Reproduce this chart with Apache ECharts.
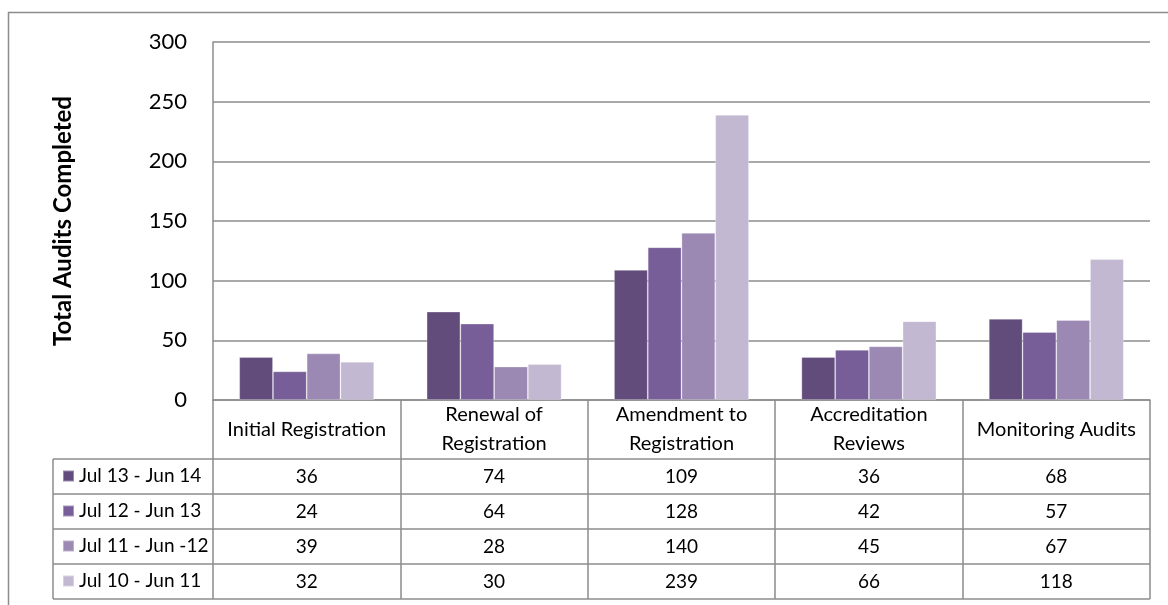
<!DOCTYPE html>
<html>
<head>
<meta charset="utf-8">
<script src="https://cdn.jsdelivr.net/npm/echarts@6/dist/echarts.min.js"></script>
<style>
  html, body { margin: 0; padding: 0; background: #fff; }
  #chart { width: 1168px; height: 605px; }
</style>
</head>
<body>
<div id="chart"></div>
<script>
// categories (header row of the data table)
const categories = ['Initial Registration', 'Renewal of\nRegistration', 'Amendment to\nRegistration', 'Accreditation\nReviews', 'Monitoring Audits']
const seriesNames = ['Jul 13 - Jun 14', 'Jul 12 - Jun 13', 'Jul 11 - Jun -12', 'Jul 10 - Jun 11']
const jul13 = [36, 74, 109, 36, 68]
const jul12 = [24, 64, 128, 42, 57]
const jul11 = [39, 28, 140, 45, 67]
const jul10 = [32, 30, 239, 66, 118]
const seriesValues = [jul13, jul12, jul11, jul10]
const colors = ['#624c7c', '#785e99', '#9b88b3', '#c3b8d2']

const FONT = 'Lato, "Open Sans", sans-serif'
const LINE = '#8c8c8c'

// layout of the plot and the table under it
const gridLeft = 213
const gridRight = 18
const gridTop = 42
const axisY = 400
const tableLeft = 53
const rowTop = 459
const rowH = 35

const chart = echarts.init(document.getElementById('chart'))

const option = {
  animation: false,
  color: colors,
  textStyle: {fontFamily: FONT},
  grid: {left: gridLeft, right: gridRight, top: gridTop, bottom: 605 - axisY, containLabel: false},
  legend: {
    orient: 'vertical',
    left: 62,
    top: rowTop + 6,
    padding: 0,
    itemGap: rowH - 22,
    itemWidth: 11,
    itemHeight: 11,
    icon: 'rect',
    textStyle: {fontFamily: FONT, fontSize: 19, color: '#000', lineHeight: 22},
    data: seriesNames
  },
  xAxis: {
    type: 'category',
    data: categories,
    axisLine: {show: true, lineStyle: {color: LINE, width: 1.5}},
    axisTick: {show: true, interval: 0, length: rowTop + rowH * 4 - axisY, lineStyle: {color: LINE, width: 1.5}},
    axisLabel: {
      interval: 0, hideOverlap: false,
      color: '#000', fontFamily: FONT, fontSize: 20, lineHeight: 29,
      margin: (rowTop - axisY) / 2, verticalAlign: 'middle', align: 'center'
    },
    splitLine: {show: false}
  },
  yAxis: {
    type: 'value',
    min: 0,
    max: 300,
    interval: 50,
    name: 'Total Audits Completed',
    nameLocation: 'middle',
    nameGap: 138,
    nameRotate: 90,
    nameTextStyle: {fontFamily: FONT, fontSize: 24, fontWeight: 'bold', color: '#000'},
    axisLine: {show: true, lineStyle: {color: LINE, width: 1.5}},
    axisTick: {show: false},
    axisLabel: {color: '#000', fontFamily: FONT, fontSize: 22, margin: 26},
    splitLine: {show: true, lineStyle: {color: LINE, width: 1.5}}
  },
  series: seriesValues.map((vals, i) => ({
    name: seriesNames[i],
    type: 'bar',
    data: vals,
    barGap: '0%',
    barCategoryGap: '28%',
    itemStyle: {color: colors[i], borderColor: 'rgba(255,255,255,0.35)', borderWidth: 0.8}
  }))
}

chart.setOption(option)

// build the data table from the same arrays
const tableRight = 1168 - gridRight
const graphics = [
  {type: 'rect', silent: true, shape: {x: 8.5, y: 12.5, width: 1300, height: 800},
    style: {fill: null, stroke: LINE, lineWidth: 1.5}},
  {type: 'line', silent: true, shape: {x1: tableLeft, y1: rowTop, x2: tableLeft, y2: rowTop + rowH * 4},
    style: {stroke: LINE, lineWidth: 1.5}}
]
for (let r = 0; r <= 4; r++) {
  const y = rowTop + rowH * r
  graphics.push({type: 'line', silent: true, shape: {x1: tableLeft, y1: y, x2: tableRight, y2: y},
    style: {stroke: LINE, lineWidth: 1.5}})
}
seriesValues.forEach((vals, r) => {
  vals.forEach((v, c) => {
    const x = chart.convertToPixel({xAxisIndex: 0}, c)
    graphics.push({
      type: 'text', silent: true,
      x: x, y: rowTop + rowH * r + rowH / 2,
      style: {text: String(v), fontFamily: FONT, fontSize: 19, fill: '#000', align: 'center', verticalAlign: 'middle'}
    })
  })
})
chart.setOption({graphic: graphics})
</script>
</body>
</html>
